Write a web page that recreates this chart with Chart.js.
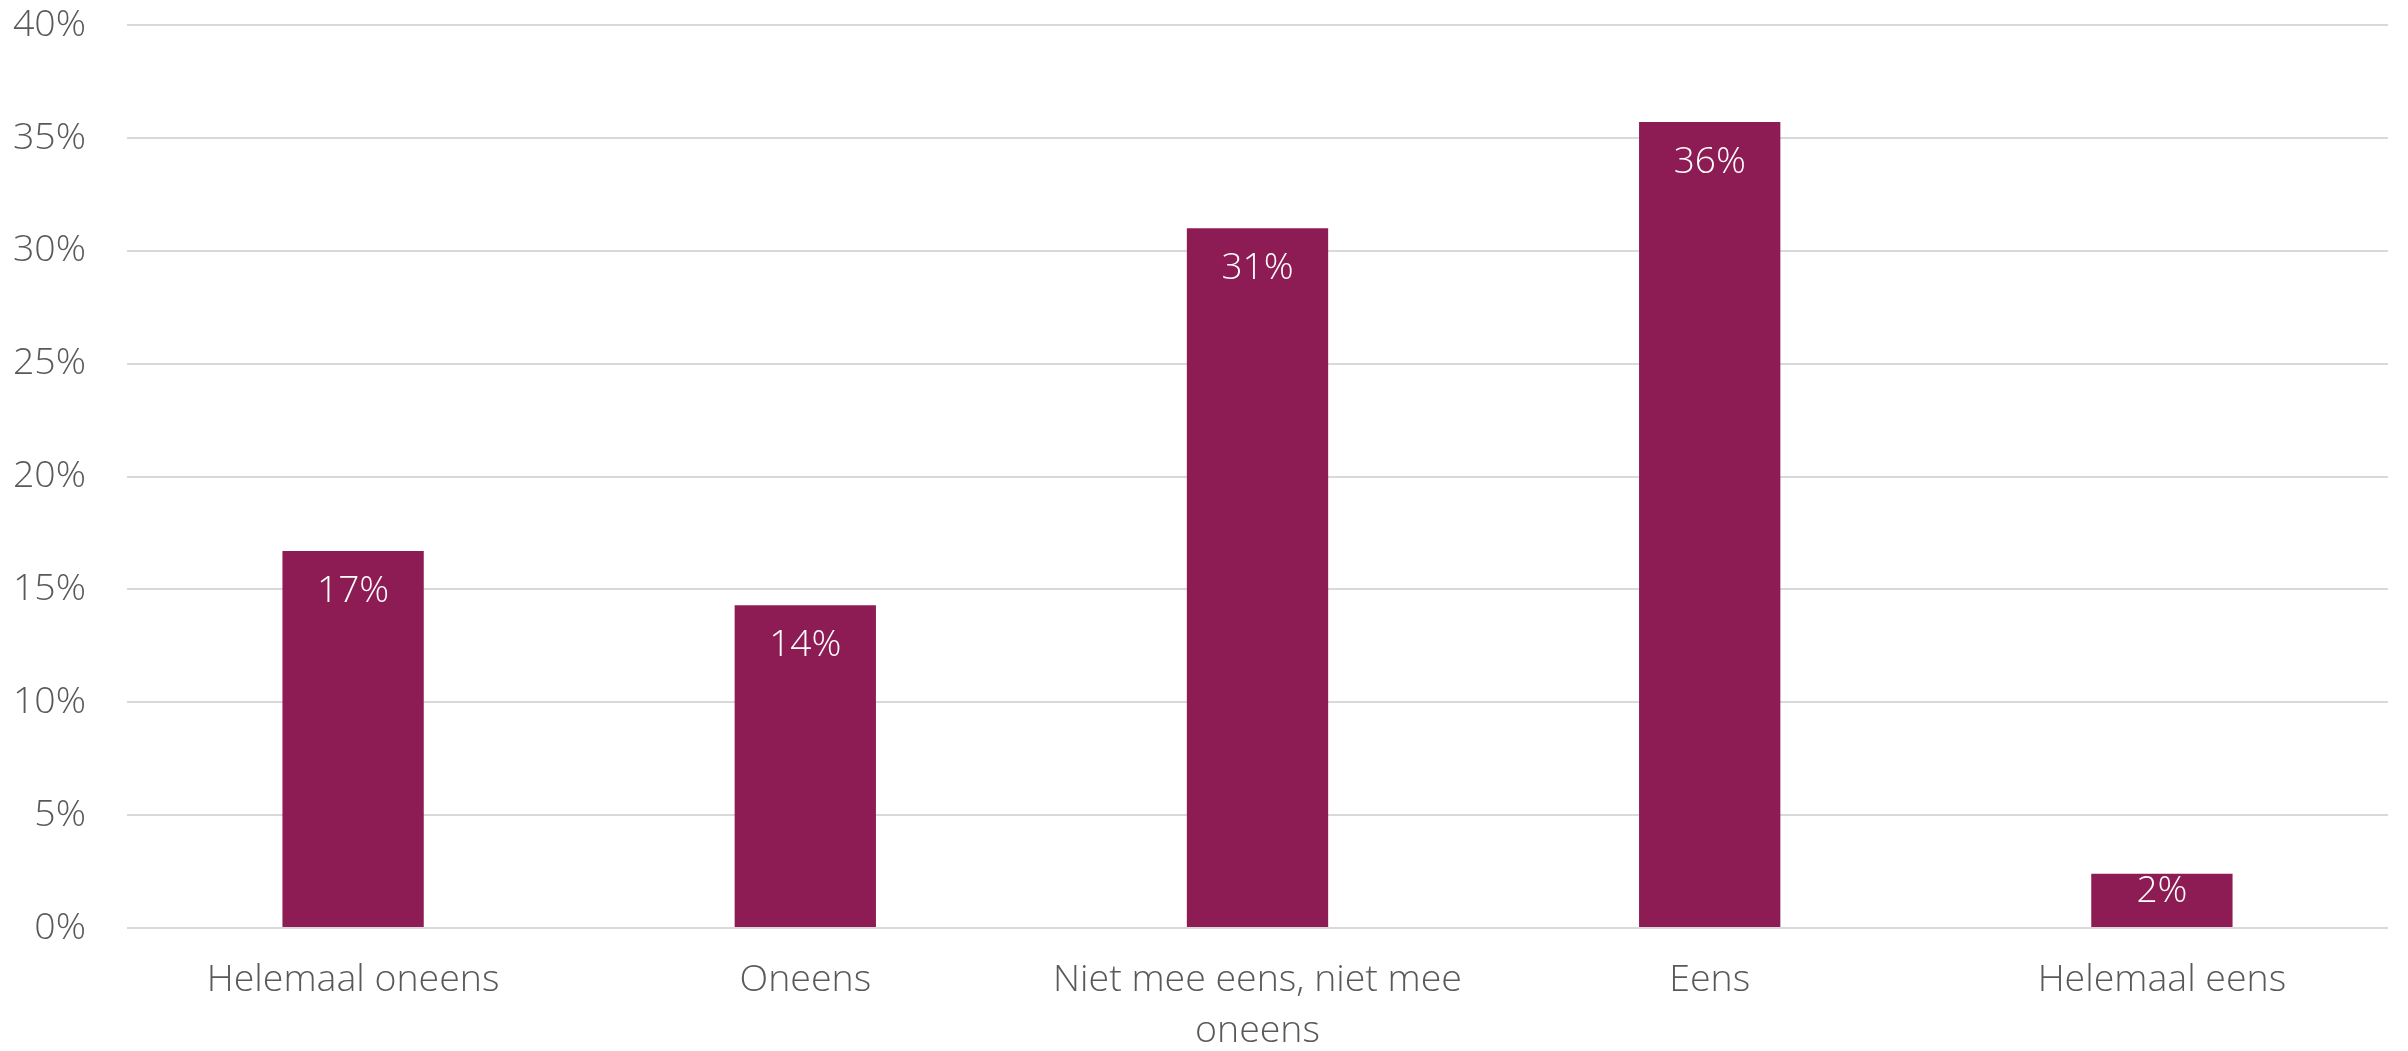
<!DOCTYPE html>
<html>
<head>
<meta charset="utf-8">
<title>Eens / oneens</title>
<script src="https://cdn.jsdelivr.net/npm/chart.js@4.4.1/dist/chart.umd.min.js"></script>
<style>
    html, body { margin: 0; padding: 0; background: #ffffff; }
    #wrap { width: 2408px; height: 1051px; position: relative; }
</style>
</head>
<body>
<div id="wrap"><canvas id="answerChart"></canvas></div>
<script>
// categories (multi-line where the original label wraps)
var categories = [
    'Helemaal oneens',
    'Oneens',
    ['Niet mee eens, niet mee', 'oneens'],
    'Eens',
    'Helemaal eens'
];
// share of answers, in percent
var shares = [16.7, 14.3, 31.0, 35.7, 2.4];
var shareLabels = ['17%', '14%', '31%', '36%', '2%'];
var yTicks = [0, 5, 10, 15, 20, 25, 30, 35, 40];

var barColor = '#8e1c54';
var textColor = '#595959';
var fontFamily = '"Open Sans", "Noto Sans", sans-serif';

// draws the value labels inside the bars, near the top
var insideEndLabels = {
    id: 'insideEndLabels',
    afterDatasetsDraw: function (chart) {
        var ctx = chart.ctx;
        var meta = chart.getDatasetMeta(0);
        ctx.save();
        ctx.font = '300 37px ' + fontFamily;
        ctx.fillStyle = '#ffffff';
        ctx.textAlign = 'center';
        ctx.textBaseline = 'middle';
        meta.data.forEach(function (bar, i) {
            var h = bar.base - bar.y;
            var offset = h > 80 ? 40 : 18;
            ctx.fillText(shareLabels[i], bar.x, bar.y + offset);
        });
        ctx.restore();
    }
};

document.addEventListener('DOMContentLoaded', function () {
    var ctx = document.getElementById('answerChart').getContext('2d');
    var answerChart = new Chart(ctx, {
        type: 'bar',
        data: {
            labels: categories,
            datasets: [{
                label: 'Aandeel',
                data: shares,
                backgroundColor: barColor,
                borderWidth: 0,
                categoryPercentage: 1,
                barPercentage: 0.3125
            }]
        },
        options: {
            responsive: true,
            maintainAspectRatio: false,
            animation: false,
            layout: { padding: { top: 25, right: 20, bottom: 0, left: 0 } },
            plugins: {
                legend: { display: false },
                tooltip: { enabled: false }
            },
            scales: {
                x: {
                    grid: { display: false, drawTicks: false },
                    border: { display: false },
                    ticks: {
                        color: textColor,
                        padding: 27,
                        maxRotation: 0,
                        autoSkip: false,
                        font: { family: fontFamily, size: 37.5, weight: 300, lineHeight: 1.35 }
                    },
                    afterFit: function (scale) { scale.height = 123; }
                },
                y: {
                    min: 0,
                    max: 40,
                    afterBuildTicks: function (scale) {
                        scale.ticks = yTicks.map(function (v) { return { value: v }; });
                    },
                    grid: { color: '#d9d9d9', lineWidth: 2, drawTicks: false },
                    border: { display: false },
                    ticks: {
                        color: textColor,
                        padding: 41,
                        font: { family: fontFamily, size: 37.5, weight: 300 },
                        callback: function (v) { return v + '%'; }
                    },
                    afterFit: function (scale) {
                        scale.width = 127;
                        scale.paddingTop = 0;
                        scale.paddingBottom = 0;
                    }
                }
            }
        },
        plugins: [insideEndLabels]
    });
});
</script>
</body>
</html>
